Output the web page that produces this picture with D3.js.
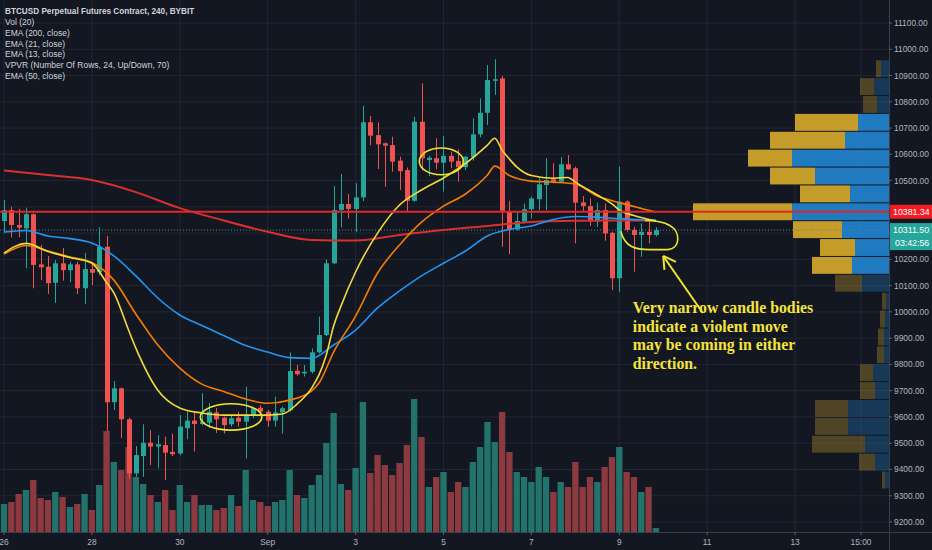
<!DOCTYPE html>
<html><head><meta charset="utf-8">
<script src="https://cdn.jsdelivr.net/npm/d3@7"></script>
<style>
html,body{margin:0;padding:0;background:#131722;overflow:hidden}
svg{display:block}
</style></head><body>
<svg id="c" width="932" height="550"></svg>
<script>
// ---------- DATA (4h candles, index 0 = Aug 26 00:00) ----------
const opens  = [10346,10388,10331,10318,10372,10181,10172,10111,10185,10159,10181,10090,10163,10151,10248,9656,9709,9591,9385,9451,9502,9487,9493,9467,9461,9557,9586,9573,9578,9617,9597,9572,9597,9582,9605,9635,9620,9586,9617,9626,9776,9766,9772,9846,9912,10185,10388,10411,10392,10436,10722,10673,10642,10635,10576,10540,10423,10724,10578,10585,10568,10594,10575,10551,10589,10676,10758,10880,10889,10384,10314,10344,10391,10429,10483,10505,10496,10562,10547,10417,10403,10344,10388,10301,10128,10420,10312,10293,10305,10293];
const highs  = [10426,10400,10392,10397,10375,10255,10213,10197,10243,10191,10191,10225,10182,10322,10290,9737,9712,9597,9489,9572,9550,9531,9525,9537,9607,9620,9620,9690,9653,9634,9601,9607,9620,9715,9639,9645,9626,9677,9639,9846,9798,9798,9861,9982,10200,10479,10525,10449,10490,10785,10746,10722,10645,10667,10591,10550,10743,10870,10594,10661,10670,10610,10619,10594,10737,10813,10940,10962,10898,10423,10384,10413,10439,10509,10585,10566,10589,10597,10553,10441,10432,10416,10413,10305,10553,10425,10324,10337,10343,10322];
const lows   = [10300,10284,10285,10166,10090,10121,10068,10034,10119,10113,10068,10030,10102,10140,9546,9626,9519,9366,9372,9372,9417,9405,9360,9451,9455,9515,9468,9568,9558,9539,9537,9563,9563,9442,9595,9610,9563,9563,9537,9620,9757,9754,9766,9842,9908,10182,10322,10356,10305,10422,10635,10544,10477,10534,10464,10381,10420,10538,10517,10543,10458,10547,10496,10540,10576,10665,10712,10826,10248,10220,10310,10337,10356,10388,10388,10490,10492,10540,10261,10381,10327,10324,10271,10083,10077,10305,10153,10210,10261,10287];
const closes = [10388,10331,10321,10372,10179,10170,10109,10185,10159,10181,10090,10163,10149,10248,9656,9709,9591,9385,9455,9502,9487,9496,9464,9458,9563,9586,9573,9582,9620,9591,9569,9595,9582,9607,9633,9620,9586,9617,9633,9775,9763,9772,9846,9912,10185,10388,10411,10392,10436,10722,10671,10638,10633,10572,10536,10423,10724,10585,10587,10568,10594,10572,10551,10591,10676,10758,10883,10886,10385,10312,10346,10391,10432,10486,10502,10492,10562,10543,10416,10403,10344,10388,10299,10128,10420,10312,10293,10305,10293,10311.5];
const volumes = [28,30,38,42,52,34,32,40,35,25,28,38,22,47,101,70,62,85,55,48,37,30,42,22,47,30,37,27,27,22,24,37,26,62,32,30,26,30,32,62,37,34,47,57,89,119,48,42,64,130,59,77,67,57,69,87,133,95,45,55,60,40,50,45,70,85,110,90,120,80,60,55,50,65,55,40,50,45,70,45,55,50,65,75,85,60,55,40,45,4];

const ema200Idx = [0,6,12,18,24,30,36,42,48,54,60,66,72,78,84,89];
const ema200    = [10538,10521,10502,10456,10395,10348,10305,10274,10272,10293,10312,10327,10342,10347,10348,10348];
const ema50Idx  = [0,3,6,9,12,15,18,21,24,27,30,33,36,39,42,45,48,51,54,57,60,63,66,69,72,75,78,81,84,87,89];
const ema50     = [10304,10310,10289,10279,10262,10213,10137,10053,9988,9948,9910,9872,9847,9826,9823,9874,9931,10015,10080,10137,10185,10232,10289,10314,10327,10352,10363,10361,10355,10351,10350];
const ema21Idx  = [0,3,6,9,12,15,18,21,24,27,30,33,36,39,42,43,45,48,51,54,57,60,63,66,67,69,72,75,78,81,84,87,89];
const ema21     = [10220,10253,10232,10209,10188,10121,9992,9874,9786,9725,9697,9668,9652,9664,9699,9729,9847,9984,10148,10255,10342,10403,10449,10521,10555,10519,10498,10494,10487,10441,10416,10394,10380];
const ema13Idx  = [0,3,6,9,12,14,15,17,18,21,24,27,30,33,36,38,40,42,43,44,45,46,48,51,54,57,60,63,66,67,68,69,70,72,75,77,78,81,83,84,86,89];
const ema13     = [10224,10261,10230,10207,10185,10112,10072,9931,9862,9702,9634,9615,9607,9607,9607,9611,9649,9710,9760,9836,9946,10022,10152,10300,10407,10464,10510,10565,10635,10661,10616,10582,10552,10519,10509,10512,10494,10445,10411,10388,10367,10346];

// Volume profile (24 rows, bottom -> top)
const vpLow = 9326, vpHigh = 10960, vpRows = 24;
const vpUp   = [4,14,24,41,41,14,16,5,5,4,3,27,37,34,47,97,39,74,97,44,31,12,15,8];
const vpDown = [3,16,53,33,33,15,13,7,6,5,4,27,40,35,49,99,50,45,44,75,63,14,14,5];
const vaLowRow = 12, vaHighRow = 20;

const priceTicks = d3.range(9200, 11101, 100);
const timeTickIdx = [0,12,24,36,48,60,72,84,96,108,117];
const timeTickLabels = ["26","28","30","Sep","3","5","7","9","11","13","15:00"];
const levelPrice = 10381.34;
const lastPrice = 10311.50;
const countdown = "03:42:56";
const legendLines = ["BTCUSD Perpetual Futures Contract, 240, BYBIT","Vol (20)","EMA (200, close)","EMA (21, close)","EMA (13, close)","VPVR (Number Of Rows, 24, Up/Down, 70)","EMA (50, close)"];
const noteLines = ["Very narrow candle bodies","indicate a violent move","may be coming in either","direction."];

// ---------- LAYOUT ----------
const W = 932, H = 550, plotR = 889, axisY = 532;
const svg = d3.select('#c');
const x = d3.scaleLinear().domain([0,117]).range([4,861]);
const y = d3.scaleLinear().domain([9200,11100]).range([522,23]);
const yv = d3.scaleLinear().domain([0,150]).range([axisY, axisY-150]);
const step = x(1) - x(0);
const bodyW = 5;
const UP = '#26a69a', DN = '#ef5350';
const FONT = '"Liberation Sans", Arial, sans-serif';

svg.append('rect').attr('width',W).attr('height',H).attr('fill','#131722');
svg.append('clipPath').attr('id','pc').append('rect').attr('width',plotR).attr('height',axisY);
const g = svg.append('g').attr('clip-path','url(#pc)');

// grid
g.selectAll('.hg').data(priceTicks).join('line')
  .attr('x1',0).attr('x2',plotR).attr('y1',d=>y(d)).attr('y2',d=>y(d))
  .attr('stroke','#232733').attr('stroke-width',1);
g.selectAll('.vg').data(timeTickIdx).join('line')
  .attr('x1',d=>x(d)).attr('x2',d=>x(d)).attr('y1',0).attr('y2',axisY)
  .attr('stroke','#232733').attr('stroke-width',1);

const idx = d3.range(opens.length);

// volume
g.selectAll('.vol').data(idx).join('rect')
  .attr('x',i=>x(i)-(step-1)/2).attr('width',step-1)
  .attr('y',i=>yv(volumes[i])).attr('height',i=>axisY-yv(volumes[i]))
  .attr('fill',i=>closes[i]>=opens[i] ? '#22736c' : '#8c3a40');

// volume profile
const rowH = (vpHigh - vpLow)/vpRows;
const vmax = d3.max(vpUp.map((u,k)=>u+vpDown[k]));
const vw = d3.scaleLinear().domain([0,vmax]).range([0,196]);
const vp = g.append('g');
d3.range(vpRows).forEach(k=>{
  const top = y(vpLow + (k+1)*rowH)+0.5, bot = y(vpLow + k*rowH)-0.5;
  const inVA = k>=vaLowRow && k<=vaHighRow;
  const op = inVA ? 0.9 : 0.3;
  const wu = vw(vpUp[k]), wd = vw(vpDown[k]);
  vp.append('rect').attr('x',plotR-wu).attr('y',top).attr('width',wu).attr('height',bot-top)
    .attr('fill','#2185d0').attr('opacity',op);
  vp.append('rect').attr('x',plotR-wu-wd).attr('y',top).attr('width',wd).attr('height',bot-top)
    .attr('fill','#d9ab2a').attr('opacity',op);
});

// current price dotted line
g.append('line').attr('x1',0).attr('x2',plotR).attr('y1',y(lastPrice)).attr('y2',y(lastPrice))
  .attr('stroke','#4f8f8a').attr('stroke-width',1).attr('stroke-dasharray','1,2');

// candles
const cg = g.append('g');
cg.selectAll('.wick').data(idx).join('line')
  .attr('x1',i=>Math.round(x(i))+0.5).attr('x2',i=>Math.round(x(i))+0.5)
  .attr('y1',i=>y(highs[i])).attr('y2',i=>y(lows[i]))
  .attr('stroke',i=>closes[i]>=opens[i]?UP:DN).attr('stroke-width',1);
cg.selectAll('.body').data(idx).join('rect')
  .attr('x',i=>Math.round(x(i))+0.5-bodyW/2).attr('width',bodyW)
  .attr('y',i=>y(Math.max(opens[i],closes[i])))
  .attr('height',i=>Math.max(1.2, Math.abs(y(opens[i])-y(closes[i]))))
  .attr('fill',i=>closes[i]>=opens[i]?UP:DN);

// EMAs
function ema(ix, vals, color, w){
  const line = d3.line().x(d=>x(d[0])).y(d=>y(d[1])).curve(d3.curveMonotoneX);
  g.append('path').datum(ix.map((v,k)=>[v,vals[k]])).attr('d',line)
    .attr('fill','none').attr('stroke',color).attr('stroke-width',w);
}
ema(ema200Idx, ema200, '#d8302f', 2);
ema(ema50Idx, ema50, '#2196f3', 1.6);
ema(ema21Idx, ema21, '#f57c00', 1.6);
ema(ema13Idx, ema13, '#f5d83a', 1.6);

// horizontal level line
g.append('line').attr('x1',0).attr('x2',plotR).attr('y1',y(levelPrice)).attr('y2',y(levelPrice))
  .attr('stroke','#e0282b').attr('stroke-width',2);

// annotations
const ann = g.append('g').attr('fill','none').attr('stroke','#ece62c').attr('stroke-width',1.6);
ann.append('ellipse').attr('cx',x(31)).attr('cy',y(9600)).attr('rx',step*4.2).attr('ry',y(9550)-y(9600));
ann.append('ellipse').attr('cx',x(59.7)).attr('cy',y(10573)).attr('rx',step*3).attr('ry',y(10522)-y(10573));
const loop = d3.path();
loop.moveTo(x(84.2), y(10307));
loop.bezierCurveTo(x(84.8), y(10245), x(86.2), y(10237), x(88.2), y(10237));
loop.lineTo(x(90.6), y(10237));
loop.bezierCurveTo(x(92.4), y(10241), x(92.4), y(10306), x(90.9), y(10329));
loop.bezierCurveTo(x(90), y(10344), x(88.7), y(10348), x(87.5), y(10348));
ann.append('path').attr('d',loop.toString());
// arrow
const tail = [x(95.4), y(9996)], tip = [x(90.0), y(10213)];
ann.append('line').attr('x1',tail[0]).attr('y1',tail[1]).attr('x2',tip[0]).attr('y2',tip[1]).attr('stroke-width',2);
{
  const dx = tail[0]-tip[0], dy = tail[1]-tip[1], L = Math.hypot(dx,dy);
  const ux = dx/L, uy = dy/L, a = Math.PI/6, len = 14;
  [a,-a].forEach(t=>{
    const rx = ux*Math.cos(t)-uy*Math.sin(t), ry = ux*Math.sin(t)+uy*Math.cos(t);
    ann.append('line').attr('x1',tip[0]).attr('y1',tip[1]).attr('x2',tip[0]+rx*len).attr('y2',tip[1]+ry*len).attr('stroke-width',2);
  });
}
const note = g.append('text').attr('font-family','"Liberation Serif", "Times New Roman", serif')
  .attr('font-weight','bold').attr('font-size',15.8).attr('fill','#f4e43c');
noteLines.forEach((t,k)=>note.append('tspan').attr('x',x(85.85)).attr('y',y(9996)+k*18.6).text(t));

// legend
const lg = svg.append('g').attr('font-family',FONT).attr('font-size',8.5).attr('fill','#d1d4dc');
legendLines.forEach((t,k)=>lg.append('text').attr('x',5).attr('y',14+k*10.85)
  .attr('font-weight',k===0?'bold':'normal').attr('font-size',k===0?8.2:8.5).text(t));

// axes lines
svg.append('line').attr('x1',0).attr('x2',W).attr('y1',axisY+0.5).attr('y2',axisY+0.5).attr('stroke','#3a3e4a');
svg.append('line').attr('x1',plotR+0.5).attr('x2',plotR+0.5).attr('y1',0).attr('y2',H).attr('stroke','#3a3e4a');

// time axis
const xt = svg.append('g').attr('font-family',FONT).attr('font-size',8.4).attr('fill','#b2b5be');
timeTickIdx.forEach((d,k)=>{
  xt.append('line').attr('x1',x(d)).attr('x2',x(d)).attr('y1',axisY).attr('y2',axisY+3).attr('stroke','#5d606b');
  xt.append('text').attr('x',x(d)).attr('y',545).attr('text-anchor','middle').text(timeTickLabels[k]);
});

// price axis (labels hidden where the price tags sit)
const ly = y(levelPrice), cy = y(lastPrice);
const yt = svg.append('g').attr('font-family',FONT).attr('font-size',8.4).attr('fill','#b2b5be');
priceTicks.forEach(p=>{
  yt.append('line').attr('x1',plotR).attr('x2',plotR+3).attr('y1',y(p)).attr('y2',y(p)).attr('stroke','#5d606b');
  const yy = y(p);
  const covered = (yy > ly-12 && yy < ly+12) || (yy > cy-12 && yy < cy+24);
  if (!covered) yt.append('text').attr('x',894).attr('y',yy+3).text(d3.format('.2f')(p));
});

// price labels
svg.append('rect').attr('x',plotR+1).attr('y',ly-7).attr('width',W-plotR).attr('height',14).attr('fill','#f21d23');
svg.append('text').attr('x',893).attr('y',ly+3.2).attr('font-family',FONT).attr('font-size',8.8).attr('fill','#fff').text(d3.format('.2f')(levelPrice));
svg.append('rect').attr('x',plotR+1).attr('y',cy-7).attr('width',W-plotR).attr('height',27).attr('fill','#26a69a');
svg.append('text').attr('x',893).attr('y',cy+3.2).attr('font-family',FONT).attr('font-size',8.8).attr('fill','#fff').text(d3.format('.2f')(lastPrice));
svg.append('text').attr('x',895).attr('y',cy+15.5).attr('font-family',FONT).attr('font-size',8.8).attr('fill','#fff').text(countdown);
</script>
</body></html>
